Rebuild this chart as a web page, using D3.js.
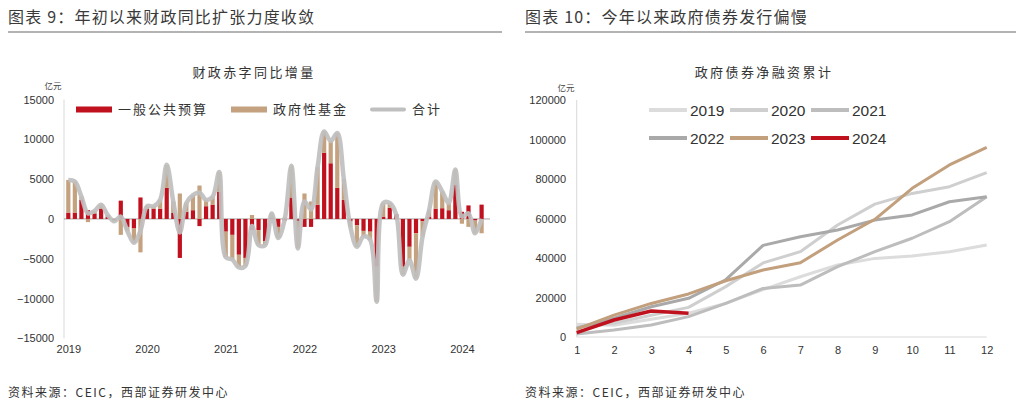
<!DOCTYPE html>
<html><head><meta charset="utf-8">
<script src="https://cdn.jsdelivr.net/npm/d3@7/dist/d3.min.js"></script>
<style>body{margin:0;background:#fff;} svg{display:block;background:#fff;}</style>
</head><body><svg id="c" width="1024" height="404"></svg>
<script>
// ---------- Left chart data (亿元) ----------
const yearLabels = ['2019','2020','2021','2022','2023','2024'];
const monthLabels = [];
yearLabels.forEach(y => { for (let m = 1; m <= 12; m++) monthLabels.push(y + '-' + String(m).padStart(2,'0')); });
const months = monthLabels.slice(0, 64); // 2019-01 .. 2024-04
const generalBudget = [800,800,2400,1100,700,1300,300,-200,2300,-1000,-1200,2700,
  1300,1300,1300,3900,800,-4900,900,1100,-900,1600,1800,3400,
  -1600,-2000,-4500,-4900,-1400,-1400,-2800,200,-1000,-200,2700,-300,
  -1000,-1000,1800,8300,7000,3900,2400,-300,-800,-1500,-1600,-6000,
  300,1400,600,-6000,-3500,-1800,-300,300,1300,1350,1100,4300,
  900,1700,-200,1800];
const govFund = [4100,3900,400,-400,300,500,200,-100,-2000,-500,-1800,-4200,
  300,300,1100,2900,1400,3200,1100,1900,4200,800,1000,2500,
  -3200,-3100,-1600,-1000,500,-1900,-500,500,-1400,200,4000,-3400,
  3200,2200,4700,2700,2800,6900,2600,-700,-2700,-700,-1000,-4400,
  1700,600,-100,-1000,-1700,-5700,-1900,800,3400,2100,900,1900,
  -600,-1000,-1600,-1800];
const leftYTicks = [-15000,-10000,-5000,0,5000,10000,15000];
const leftLegend = ['一般公共预算','政府性基金','合计'];

// ---------- Right chart data (亿元) ----------
const issueMonths = [1,2,3,4,5,6,7,8,9,10,11,12];
const bond2019 = [6500,6000,9000,12000,17000,24000,30500,36500,39800,41000,43200,46600];
const bond2020 = [5000,7000,11000,15000,25500,37500,43200,56700,67300,72700,76100,83200];
const bond2021 = [1500,3500,6100,10300,17000,24600,26300,35600,43200,50000,58400,71000];
const bond2022 = [4500,9500,15300,19600,29000,46400,50800,54200,59200,61800,68500,71000];
const bond2023 = [4000,11100,17000,21800,28500,33900,37600,49100,59600,75300,87100,96000];
const bond2024 = [2200,8600,13200,12000];
const rightYTicks = [0,20000,40000,60000,80000,100000,120000];
const seriesNames = ['2019','2020','2021','2022','2023','2024'];

// ---------- Drawing ----------
const svg = d3.select('#c');
const CJK = '"Noto Sans CJK SC", sans-serif';
const NUM = '"Liberation Sans", Arial, sans-serif';
const RED = '#c0111f', TAN = '#c4a27f', GREY = '#bfbfbf';

function header(x, x2, text) {
  svg.append('text').attr('x', x).attr('y', 23).attr('font-family', CJK).attr('font-size', 16)
    .attr('letter-spacing', 1.2).attr('fill', '#3a3a3a').text(text);
  svg.append('line').attr('x1', x).attr('x2', x2).attr('y1', 32).attr('y2', 32)
    .attr('stroke', '#9a9a9a').attr('stroke-width', 1.5);
  svg.append('text').attr('x', x).attr('y', 397).attr('font-family', CJK).attr('font-size', 12)
    .attr('letter-spacing', 1.5).attr('fill', '#333').text('资料来源：CEIC，西部证券研发中心');
}
header(8, 502, '图表 9：年初以来财政同比扩张力度收敛');
header(525, 1016, '图表 10：今年以来政府债券发行偏慢');

// ===== Left chart =====
const xL = d3.scaleLinear().domain([0, months.length - 1]).range([68.3, 481.6]);
const yL = d3.scaleLinear().domain([-15000, 15000]).range([338.3, 99.6]);

svg.append('text').attr('x', 254).attr('y', 77).attr('text-anchor', 'middle').attr('font-family', CJK)
  .attr('font-size', 13).attr('letter-spacing', 2.4).attr('fill', '#333').text('财政赤字同比增量');
svg.append('text').attr('x', 53).attr('y', 89).attr('text-anchor', 'middle').attr('font-family', CJK)
  .attr('font-size', 8.5).attr('fill', '#444').text('亿元');

const gL = svg.append('g').attr('transform', 'translate(54,0)')
  .call(d3.axisLeft(yL).tickValues(leftYTicks).tickSize(0).tickPadding(0).tickFormat(d3.format('d')));
gL.select('.domain').remove();
gL.selectAll('text').attr('font-family', NUM).attr('font-size', 11).attr('fill', '#333');
svg.append('line').attr('x1', 64).attr('x2', 64).attr('y1', yL(15000)).attr('y2', yL(-15000))
  .attr('stroke', '#d9d9d9').attr('stroke-width', 1);

const gxL = svg.append('g').attr('transform', 'translate(0,345)')
  .call(d3.axisBottom(xL).tickValues(yearLabels.map((y, k) => k * 12)).tickSize(0).tickPadding(0)
    .tickFormat((d, k) => yearLabels[k]));
gxL.select('.domain').remove();
gxL.selectAll('text').attr('font-family', NUM).attr('font-size', 11).attr('fill', '#333');

// zero baseline
svg.append('line').attr('x1', 64).attr('x2', 490).attr('y1', yL(0)).attr('y2', yL(0))
  .attr('stroke', '#8c8c8c').attr('stroke-width', 0.8);

const rows = months.map((m, i) => ({ i, gb: generalBudget[i], gf: govFund[i] }));
const stack = d3.stack().keys(['gb', 'gf']).offset(d3.stackOffsetDiverging)(rows);
const colors = { gb: RED, gf: TAN };
const bw = 4.2;
stack.forEach(layer => {
  svg.append('g').selectAll('rect').data(layer).join('rect')
    .attr('x', d => xL(d.data.i) - bw / 2).attr('width', bw)
    .attr('y', d => yL(Math.max(d[0], d[1])))
    .attr('height', d => Math.abs(yL(d[0]) - yL(d[1])))
    .attr('fill', colors[layer.key]);
});
const totalLine = d3.line().x(d => xL(d.i)).y(d => yL(d.gb + d.gf)).curve(d3.curveCatmullRom.alpha(0.5));
svg.append('path').datum(rows).attr('d', totalLine).attr('fill', 'none')
  .attr('stroke', GREY).attr('stroke-width', 4.5).attr('stroke-opacity', 0.92).attr('stroke-linejoin', 'round');

// left legend
const lgL = [
  { x: 76, type: 'bar', c: RED, t: leftLegend[0] },
  { x: 231, type: 'bar', c: TAN, t: leftLegend[1] },
  { x: 370, type: 'line', c: GREY, t: leftLegend[2] }
];
lgL.forEach(l => {
  if (l.type === 'bar') {
    svg.append('rect').attr('x', l.x).attr('y', 106.5).attr('width', 36).attr('height', 6).attr('fill', l.c);
  } else {
    svg.append('line').attr('x1', l.x + 2).attr('x2', l.x + 34).attr('y1', 109.5).attr('y2', 109.5)
      .attr('stroke', l.c).attr('stroke-width', 4).attr('stroke-linecap', 'round');
  }
  svg.append('text').attr('x', l.x + 42).attr('y', 114).attr('font-family', CJK).attr('font-size', 13)
    .attr('letter-spacing', 2).attr('fill', '#333').text(l.t);
});

// ===== Right chart =====
const xR = d3.scaleLinear().domain([1, 12]).range([576.7, 986.7]);
const yR = d3.scaleLinear().domain([0, 120000]).range([337, 100]);

svg.append('text').attr('x', 764).attr('y', 77).attr('text-anchor', 'middle').attr('font-family', CJK)
  .attr('font-size', 13).attr('letter-spacing', 2.4).attr('fill', '#333').text('政府债券净融资累计');
svg.append('text').attr('x', 566).attr('y', 91).attr('text-anchor', 'middle').attr('font-family', CJK)
  .attr('font-size', 8.5).attr('fill', '#444').text('亿元');

const gR = svg.append('g').attr('transform', 'translate(566,0)')
  .call(d3.axisLeft(yR).tickValues(rightYTicks).tickSize(0).tickPadding(0).tickFormat(d3.format('d')));
gR.select('.domain').remove();
gR.selectAll('text').attr('font-family', NUM).attr('font-size', 11).attr('fill', '#333');
svg.append('line').attr('x1', 576.7).attr('x2', 576.7).attr('y1', yR(120000)).attr('y2', yR(0))
  .attr('stroke', '#d9d9d9');
svg.append('line').attr('x1', 576.7).attr('x2', 986.7).attr('y1', yR(0)).attr('y2', yR(0))
  .attr('stroke', '#d9d9d9');
const gxR = svg.append('g').attr('transform', 'translate(0,346)')
  .call(d3.axisBottom(xR).tickValues(issueMonths).tickSize(0).tickPadding(0).tickFormat(d3.format('d')));
gxR.select('.domain').remove();
gxR.selectAll('text').attr('font-family', NUM).attr('font-size', 11).attr('fill', '#333');

const rSeries = [
  { name: seriesNames[0], v: bond2019, c: '#dcdcdc', w: 3 },
  { name: seriesNames[1], v: bond2020, c: '#cfcfcf', w: 3 },
  { name: seriesNames[2], v: bond2021, c: '#bdbdbd', w: 3 },
  { name: seriesNames[3], v: bond2022, c: '#a9a9a9', w: 3 },
  { name: seriesNames[4], v: bond2023, c: '#c29f7d', w: 3 },
  { name: seriesNames[5], v: bond2024, c: '#c0111f', w: 3.5 }
];
const lineR = d3.line().x((d, i) => xR(issueMonths[i])).y(d => yR(d));
rSeries.forEach(s => {
  svg.append('path').datum(s.v).attr('d', lineR).attr('fill', 'none').attr('stroke', s.c)
    .attr('stroke-width', s.w).attr('stroke-linejoin', 'round');
});

// right legend
const legPos = [[649, 110], [730, 110], [811, 110], [649, 138], [730, 138], [811, 138]];
rSeries.forEach((s, k) => {
  const [lx, ly] = legPos[k];
  svg.append('line').attr('x1', lx).attr('x2', lx + 38).attr('y1', ly).attr('y2', ly)
    .attr('stroke', s.c).attr('stroke-width', 4);
  svg.append('text').attr('x', lx + 41).attr('y', ly + 5.5).attr('font-family', NUM).attr('font-size', 15.5)
    .attr('fill', '#333').text(s.name);
});
</script></body></html>
